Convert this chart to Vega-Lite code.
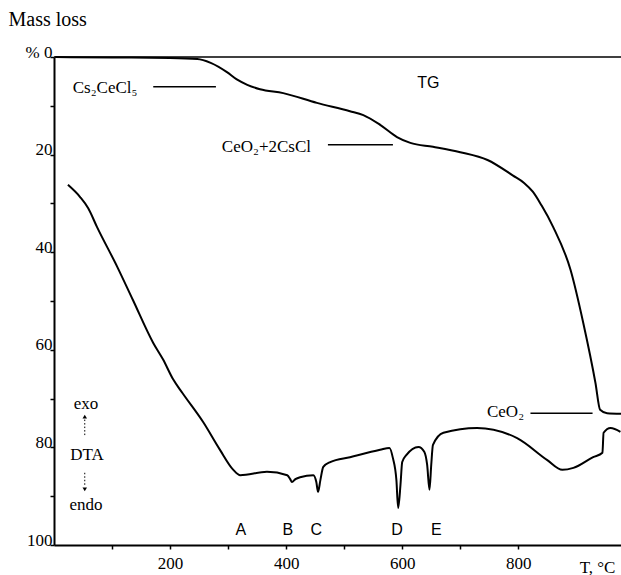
{
  "$schema": "https://vega.github.io/schema/vega-lite/v6.json",
  "autosize": {"type": "none"},
  "padding": {"left": 54, "top": 57, "right": 0, "bottom": 30},
  "width": 567,
  "height": 488,
  "background": "white",
  "config": {"view": {"stroke": null}, "font": "Liberation Serif"},
  "datasets": {
    "tg": [
      {"T": 2, "v": 0}, {"T": 100, "v": 0.1}, {"T": 200, "v": 0.2}, {"T": 247, "v": 0.4},
      {"T": 270, "v": 1.2}, {"T": 298, "v": 3.1}, {"T": 315, "v": 4.6}, {"T": 333, "v": 5.7},
      {"T": 355, "v": 6.6}, {"T": 395, "v": 7.4}, {"T": 453, "v": 9.4}, {"T": 510, "v": 11.1},
      {"T": 533, "v": 11.9}, {"T": 562, "v": 13.9}, {"T": 591, "v": 16.4}, {"T": 614, "v": 17.6},
      {"T": 653, "v": 18.4}, {"T": 700, "v": 19.5}, {"T": 747, "v": 21.1}, {"T": 791, "v": 24.3},
      {"T": 810, "v": 25.8}, {"T": 825, "v": 27.6}, {"T": 840, "v": 30.4}, {"T": 860, "v": 34.8},
      {"T": 890, "v": 43.6}, {"T": 912, "v": 54.5}, {"T": 933, "v": 66.8}, {"T": 941, "v": 72.3},
      {"T": 953, "v": 73.0}, {"T": 977, "v": 73.1}
    ],
    "dta": [
      {"T": 24, "v": 26.2}, {"T": 45, "v": 28.7}, {"T": 59, "v": 31.0}, {"T": 74, "v": 34.8},
      {"T": 109, "v": 43.0}, {"T": 136, "v": 49.8}, {"T": 171, "v": 58.6}, {"T": 188, "v": 62.0},
      {"T": 205, "v": 66.0}, {"T": 221, "v": 68.8}, {"T": 257, "v": 74.8}, {"T": 286, "v": 80.5},
      {"T": 309, "v": 84.6}, {"T": 321, "v": 85.7}, {"T": 367, "v": 85.0}, {"T": 402, "v": 85.7},
      {"T": 407, "v": 86.5}, {"T": 410, "v": 87.1}, {"T": 416, "v": 86.5}, {"T": 424, "v": 86.1},
      {"T": 447, "v": 85.7}, {"T": 452, "v": 87.1}, {"T": 455, "v": 89.1}, {"T": 459, "v": 86.7},
      {"T": 464, "v": 84.0}, {"T": 476, "v": 83.0}, {"T": 510, "v": 82.0}, {"T": 562, "v": 80.5},
      {"T": 578, "v": 80.1}, {"T": 584, "v": 82.2}, {"T": 590, "v": 86.7}, {"T": 593, "v": 92.4},
      {"T": 597, "v": 87.7}, {"T": 600, "v": 83.0}, {"T": 607, "v": 81.6}, {"T": 628, "v": 79.9},
      {"T": 638, "v": 80.9}, {"T": 643, "v": 83.6}, {"T": 647, "v": 88.7}, {"T": 650, "v": 83.6},
      {"T": 653, "v": 79.5}, {"T": 671, "v": 77.0}, {"T": 729, "v": 76.0}, {"T": 798, "v": 78.1},
      {"T": 850, "v": 82.6}, {"T": 876, "v": 84.6}, {"T": 895, "v": 84.2}, {"T": 929, "v": 82.0},
      {"T": 945, "v": 81.1}, {"T": 947, "v": 77.0}, {"T": 959, "v": 76.0}, {"T": 976, "v": 76.8}
    ],
    "hlines": [
      {"T": 0, "T2": 977, "v": 0},
      {"T": 171, "T2": 279, "v": 6.1},
      {"T": 472, "T2": 584, "v": 18.0},
      {"T": 821, "T2": 928, "v": 73.0}
    ],
    "vlines": [
      {"T": 53, "v": 74.3, "v2": 77.8},
      {"T": 53, "v": 85.2, "v2": 88.0}
    ],
    "heads": [
      {"T": 53, "v": 73.7, "dir": "up"},
      {"T": 53, "v": 88.6, "dir": "down"}
    ],
    "serifNotes": [
      {"T": 88, "v": 6.4, "label": "Cs₂CeCl₅"},
      {"T": 366, "v": 18.4, "label": "CeO₂+2CsCl"},
      {"T": 778, "v": 72.7, "label": "CeO₂"},
      {"T": 55, "v": 71.1, "label": "exo"},
      {"T": 57, "v": 81.6, "label": "DTA"},
      {"T": 55, "v": 91.8, "label": "endo"}
    ],
    "sansNotes": [
      {"T": 645, "v": 5.3, "label": "TG"},
      {"T": 322, "v": 96.9, "label": "A"},
      {"T": 403, "v": 96.9, "label": "B"},
      {"T": 452, "v": 96.9, "label": "C"},
      {"T": 591, "v": 96.9, "label": "D"},
      {"T": 659, "v": 96.9, "label": "E"}
    ]
  },
  "encoding": {
    "x": {
      "field": "T", "type": "quantitative",
      "scale": {"domain": [0, 977], "nice": false, "zero": false},
      "axis": {
        "values": [100, 200, 300, 400, 500, 600, 700, 800],
        "labelExpr": "datum.value % 200 == 0 ? datum.label : ''",
        "grid": false, "domainColor": "black", "domainWidth": 2,
        "tickColor": "black", "tickWidth": 1.5, "tickSize": 4,
        "labelFont": "Liberation Serif", "labelFontSize": 17, "labelColor": "black",
        "labelPadding": 6, "labelFlush": false,
        "title": "T, °C", "titleFont": "Liberation Serif", "titleFontSize": 17,
        "titleFontWeight": "normal", "titleColor": "black",
        "titleX": 543, "titleY": 27, "titleBaseline": "alphabetic", "titleAlign": "center"
      }
    },
    "y": {
      "field": "v", "type": "quantitative",
      "scale": {"domain": [0, 100], "reverse": true, "nice": false},
      "axis": {
        "values": [0, 10, 20, 30, 40, 50, 60, 70, 80, 90, 100],
        "labelExpr": "datum.value == 0 ? '% 0' : (datum.value % 20 == 0 ? datum.label : '')",
        "grid": false, "domainColor": "black", "domainWidth": 2,
        "tickColor": "black", "tickWidth": 1.5, "tickSize": 4,
        "labelFont": "Liberation Serif", "labelFontSize": 17, "labelColor": "black",
        "labelBaseline": "alphabetic", "labelAlign": "right", "labelPadding": -2, "labelFlush": false,
        "title": "Mass loss", "titleFont": "Liberation Serif", "titleFontSize": 20,
        "titleFontWeight": "normal", "titleColor": "black", "titleAngle": 0,
        "titleAlign": "left", "titleBaseline": "alphabetic", "titleX": -46, "titleY": -32
      }
    }
  },
  "layer": [
    {"data": {"name": "hlines"}, "mark": {"type": "rule", "color": "black", "strokeWidth": 1.5},
     "encoding": {"x2": {"field": "T2"}}},
    {"data": {"name": "tg"}, "mark": {"type": "line", "color": "black", "strokeWidth": 2, "interpolate": "monotone"}},
    {"data": {"name": "dta"}, "mark": {"type": "line", "color": "black", "strokeWidth": 2, "interpolate": "monotone"}},
    {"data": {"name": "vlines"}, "mark": {"type": "rule", "color": "black", "strokeWidth": 1, "strokeDash": [1.5, 2]},
     "encoding": {"y2": {"field": "v2"}}},
    {"data": {"name": "heads"}, "mark": {"type": "point", "filled": true, "color": "black", "size": 20, "opacity": 1},
     "encoding": {"shape": {"field": "dir", "type": "nominal", "scale": {"domain": ["up", "down"], "range": ["triangle-up", "triangle-down"]}, "legend": null}}},
    {"data": {"name": "serifNotes"}, "mark": {"type": "text", "font": "Liberation Serif", "fontSize": 17, "color": "black", "align": "center", "baseline": "middle"},
     "encoding": {"text": {"field": "label"}}},
    {"data": {"name": "sansNotes"}, "mark": {"type": "text", "font": "Liberation Sans", "fontSize": 16, "color": "black", "align": "center", "baseline": "middle"},
     "encoding": {"text": {"field": "label"}}}
  ]
}
